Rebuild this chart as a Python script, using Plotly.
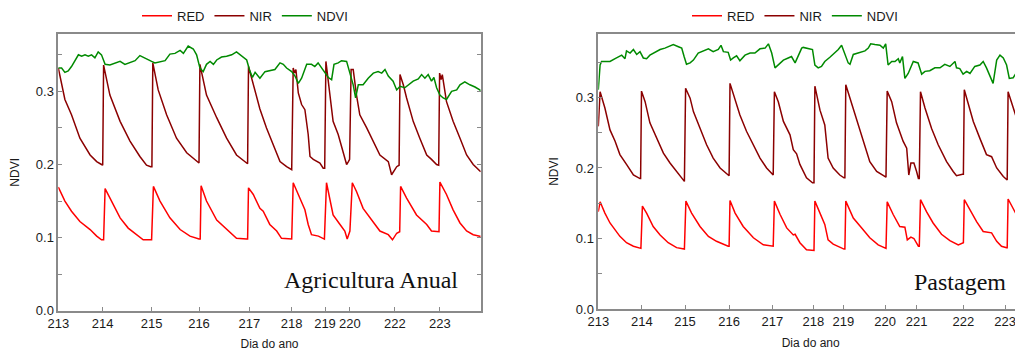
import plotly.graph_objects as go

# ---------------- data ----------------
# x = observation index (sample number), tick labels mark day of year
agr_day_pos = [0, 14.8, 31.1, 46.9, 63.7, 77.8, 88.9, 97.2, 112.2, 127.2]
agr_day_lbl = ["213", "214", "215", "216", "217", "218", "219", "220", "222", "223"]
pas_day_pos = [0, 14.5, 28.9, 43.6, 58, 71.7, 81.7, 95.6, 106.1, 121.7, 135.6]
pas_day_lbl = ["213", "214", "215", "216", "217", "218", "219", "220", "221", "222", "223"]

# Agricultura Anual - NIR
agr_nir_obs = [0, 2.2, 4.4, 7.2, 10.6, 12.8, 14.4, 14.8,
               15.1, 17.2, 20.6, 23.9, 27.2, 29.4, 30.8, 31.2,
               31.5, 33.3, 36.1, 39.4, 42.8, 46.1, 46.9,
               47.2, 49.4, 52.8, 56.1, 59.4, 62.8, 63.1,
               63.4, 65, 67.2, 69.4, 71.6, 73.9, 76.1, 77.8,
               78.3, 78.8, 79.2, 80, 81.1, 82.2, 83.3, 83.9, 85, 87.2, 88.3, 88.8,
               89.2, 90.5, 91.6, 93.3, 95, 96.1, 96.7, 97.1,
               97.6, 98.3, 99.4, 100.5, 102.8, 105, 107.2, 110, 111.1, 112.8, 113.6,
               113.9, 115, 116.1, 118.3, 120.5, 122.8, 124.4, 126.1, 126.8,
               127.1, 127.6, 128, 129.4, 131.6, 133.9, 136.1, 138.3, 140.5, 140.8]
agr_nir = [0.332, 0.289, 0.268, 0.236, 0.213, 0.204, 0.200, 0.199,
           0.336, 0.295, 0.259, 0.232, 0.211, 0.199, 0.197, 0.197,
           0.339, 0.302, 0.268, 0.236, 0.216, 0.204, 0.202,
           0.337, 0.295, 0.264, 0.236, 0.213, 0.202, 0.201,
           0.334, 0.309, 0.276, 0.250, 0.227, 0.204, 0.197, 0.193,
           0.332, 0.325, 0.330, 0.298, 0.282, 0.275, 0.241, 0.211, 0.207, 0.202, 0.195, 0.195,
           0.341, 0.295, 0.259, 0.241, 0.218, 0.200, 0.204, 0.207,
           0.330, 0.330, 0.295, 0.268, 0.250, 0.232, 0.213, 0.204, 0.186, 0.197, 0.199,
           0.323, 0.309, 0.291, 0.259, 0.236, 0.213, 0.207, 0.200, 0.199,
           0.325, 0.316, 0.323, 0.286, 0.259, 0.236, 0.213, 0.200, 0.191, 0.190]

# Agricultura Anual - RED
agr_red_obs = [0, 2.2, 4.4, 7.2, 10.6, 12.8, 14.4, 15.1,
               15.6, 17.8, 20.6, 23.3, 26.1, 28.3, 31.1,
               31.7, 33.9, 37.2, 40.6, 43.9, 46.9, 47.3,
               47.6, 49.4, 52.8, 56.1, 59.4, 62.8, 63.1,
               63.4, 65, 67.2, 68.3, 70.5, 72.8, 74.4, 77.8,
               78.3, 80.5, 82.2, 83.3, 84.4, 86.7, 88.7,
               89.4, 90.5, 91.6, 93.9, 95.5, 96.3, 97.2,
               98.0, 99.4, 101.6, 105, 107.2, 110, 111.4, 112.8, 113.8,
               114.1, 116.1, 119.4, 122.8, 124.4, 126.1, 126.9,
               127.2, 129.4, 131.6, 133.9, 136.1, 138.3, 140.5, 140.8]
agr_red = [0.169, 0.150, 0.136, 0.122, 0.111, 0.102, 0.097, 0.097,
           0.167, 0.150, 0.127, 0.113, 0.104, 0.097, 0.097,
           0.170, 0.150, 0.127, 0.111, 0.102, 0.098, 0.098,
           0.171, 0.150, 0.124, 0.111, 0.099, 0.098, 0.098,
           0.168, 0.159, 0.140, 0.136, 0.118, 0.109, 0.099, 0.098,
           0.175, 0.154, 0.138, 0.118, 0.104, 0.102, 0.098,
           0.175, 0.154, 0.131, 0.118, 0.109, 0.098, 0.109,
           0.175, 0.163, 0.140, 0.122, 0.109, 0.104, 0.097, 0.106, 0.108,
           0.170, 0.154, 0.131, 0.118, 0.109, 0.109, 0.108,
           0.176, 0.159, 0.138, 0.120, 0.109, 0.104, 0.102, 0.102]

# Agricultura Anual - NDVI
agr_ndvi_obs = [0, 1.1, 2.2, 3.3, 4.4, 5.6, 6.7, 7.8, 8.9, 10, 11.1, 12.2, 13.3, 14.4,
                15.6, 17.2, 18.9, 20.6, 22.2, 23.9, 25.6, 27.2, 28.9, 31.1, 32.2, 33.9,
                35.6, 37.2, 38.9, 40.6, 41.7, 43.3, 45, 46.1, 47.2, 48.3, 49.4, 50.6,
                51.7, 52.8, 54.4, 56.1, 57.8, 59.4, 61.1, 62.8, 63.7, 64.7, 65.6, 67.2,
                68.9, 70.5, 72.2, 73.9, 75, 76.1, 77.8, 78.9, 80, 81.1, 82.8, 84.4, 85.5,
                86.6, 87.8, 88.9, 90, 91.1, 91.9, 93.3, 94.4, 96.1, 97.2, 98.3, 99.1, 100,
                101.6, 103.3, 105, 106.6, 107.8, 108.9, 110, 111.6, 112.8, 113.9, 115.5,
                116.6, 118.3, 120, 121.1, 122.2, 123.3, 124.4, 125.2, 126.1, 127.2, 128.3,
                129.4, 131.1, 132.8, 133.9, 135.5, 137.2, 138.9, 140.5, 140.8]
agr_ndvi = [0.332, 0.332, 0.326, 0.328, 0.334, 0.343, 0.350, 0.348, 0.350, 0.348, 0.350, 0.346, 0.354, 0.350,
            0.337, 0.336, 0.339, 0.341, 0.337, 0.339, 0.342, 0.349, 0.345, 0.341, 0.339, 0.341,
            0.342, 0.351, 0.352, 0.356, 0.352, 0.362, 0.358, 0.350, 0.332, 0.327, 0.337, 0.341,
            0.337, 0.343, 0.347, 0.348, 0.350, 0.354, 0.348, 0.343, 0.330, 0.319, 0.326, 0.318,
            0.327, 0.328, 0.330, 0.339, 0.337, 0.332, 0.327, 0.321, 0.311, 0.318, 0.337, 0.337, 0.334,
            0.339, 0.332, 0.327, 0.319, 0.316, 0.337, 0.339, 0.342, 0.341, 0.323, 0.309, 0.291, 0.309,
            0.309, 0.318, 0.325, 0.327, 0.325, 0.330, 0.321, 0.314, 0.302, 0.307, 0.305,
            0.309, 0.314, 0.317, 0.323, 0.318, 0.323, 0.314, 0.319, 0.305, 0.295, 0.291,
            0.289, 0.300, 0.302, 0.309, 0.313, 0.309, 0.306, 0.302, 0.301]

# Pastagem - NIR
pas_nir_obs = [0, 0.6, 2.2, 3.9, 5.6, 7.2, 9.4, 11.7, 13.9, 14.1,
               14.4, 15.6, 17.2, 19.4, 21.7, 23.9, 26.1, 28.3, 28.7,
               29.1, 30.6, 31.7, 33.9, 36.1, 38.3, 40.6, 43.3, 43.6,
               43.9, 45, 47.2, 49.4, 51.7, 53.9, 56.1, 58, 58.3,
               58.7, 60, 61.7, 63.9, 65, 66.1, 67.2, 69.4, 71.4, 71.9,
               72.2, 73.9, 75.5, 76.6, 78.3, 80.5, 81.9, 82.2,
               82.5, 83.9, 86.1, 88.3, 90.5, 92.8, 95.5, 95.9,
               96.3, 97.8, 99.4, 101.6, 102.8, 103.5, 104.2, 105.2, 106.1, 106.7, 107.0,
               107.4, 108.9, 111.1, 113.3, 116.1, 118.3, 119.4, 121.4, 121.7,
               122, 123.3, 125, 127.2, 129.4, 131.1, 132.8, 135, 136.1, 136.3,
               136.6, 138.3, 140.5, 141.6, 143]
pas_nir = [0.259, 0.308, 0.285, 0.254, 0.238, 0.219, 0.205, 0.190, 0.185, 0.185,
           0.309, 0.294, 0.264, 0.242, 0.221, 0.207, 0.195, 0.183, 0.181,
           0.313, 0.299, 0.280, 0.256, 0.233, 0.214, 0.200, 0.190, 0.189,
           0.320, 0.304, 0.275, 0.252, 0.233, 0.214, 0.200, 0.190, 0.190,
           0.308, 0.294, 0.266, 0.247, 0.226, 0.220, 0.205, 0.186, 0.179, 0.179,
           0.316, 0.282, 0.261, 0.214, 0.200, 0.190, 0.186, 0.186,
           0.318, 0.299, 0.266, 0.238, 0.209, 0.195, 0.187, 0.187,
           0.309, 0.294, 0.264, 0.238, 0.228, 0.190, 0.207, 0.207, 0.195, 0.185, 0.185,
           0.308, 0.285, 0.256, 0.233, 0.209, 0.195, 0.189, 0.191, 0.191,
           0.311, 0.292, 0.266, 0.242, 0.219, 0.216, 0.200, 0.188, 0.183, 0.183,
           0.308, 0.285, 0.256, 0.242, 0.228]

# Pastagem - RED
pas_red_obs = [0, 0.6, 2.2, 3.9, 7.2, 9.4, 11.7, 14.2,
               14.7, 16.1, 18.3, 20.6, 23.3, 26.1, 28.7,
               29.2, 31.1, 33.9, 36.7, 39.4, 43.3, 43.6,
               43.9, 45.6, 48.3, 51.7, 55, 58, 58.3,
               58.7, 60.6, 62.8, 65, 65.6, 67.2, 69.4, 71.4, 71.9,
               72.2, 73.9, 75.5, 76.6, 78.3, 81.9, 82.2,
               82.5, 85, 87.8, 90.5, 93.3, 95.5, 95.9,
               96.3, 98.3, 100.5, 102.2, 103, 104.2, 105.2, 106.7, 107.0,
               107.4, 109.4, 111.6, 114.4, 117.2, 120, 121.7,
               122, 123.9, 126.1, 128.3, 131.1, 132.8, 134.4, 136.1, 136.3,
               136.6, 138.3, 140.5, 141.6, 143]
pas_red = [0.138, 0.152, 0.136, 0.122, 0.103, 0.094, 0.089, 0.086,
           0.146, 0.136, 0.117, 0.105, 0.094, 0.087, 0.085,
           0.153, 0.136, 0.117, 0.103, 0.096, 0.089, 0.089,
           0.154, 0.136, 0.117, 0.101, 0.091, 0.089, 0.089,
           0.153, 0.134, 0.115, 0.105, 0.106, 0.094, 0.084, 0.083, 0.083,
           0.153, 0.136, 0.120, 0.098, 0.092, 0.085, 0.085,
           0.153, 0.129, 0.115, 0.101, 0.091, 0.086, 0.086,
           0.152, 0.134, 0.117, 0.116, 0.098, 0.102, 0.100, 0.089, 0.089,
           0.155, 0.138, 0.122, 0.106, 0.097, 0.091, 0.094,
           0.155, 0.141, 0.124, 0.110, 0.108, 0.096, 0.089, 0.087, 0.087,
           0.156, 0.143, 0.124, 0.116, 0.110]

# Pastagem - NDVI
pas_ndvi_obs = [0, 0.6, 1.1, 2.2, 3.9, 5.6, 6.7, 7.8, 8.9, 9.4, 10.6, 11.7, 12.8, 13.9,
                15, 16.1, 17.2, 18.9, 20.6, 22.2, 23.3, 25, 26.7, 27.8, 28.6, 29.4, 30.6,
                31.7, 33.3, 35, 36.7, 38.3, 40, 40.9, 41.7, 43.3, 44.1, 45, 46.1, 47.2,
                48.9, 50.6, 52.2, 53.9, 55.6, 56.7, 57.8, 58.9, 60, 61.7, 63.3, 64.4,
                65.6, 66.7, 67.8, 68.3, 69.4, 71.4, 72.2, 73.3, 74.4, 75.5, 77.2, 78.9,
                80, 81.1, 82.2, 83.3, 83.9, 85, 86.6, 87.8, 88.9, 90, 90.8, 92.2, 93.9,
                95, 95.8, 96.6, 97.8, 98.9, 100, 100.5, 101.4, 102.2, 103.3, 105, 106.6,
                107.8, 108.9, 110.5, 112.2, 113.9, 115.5, 117.2, 118.9, 119.4, 120.5,
                121.6, 122.8, 123.9, 125.5, 127.2, 128.3, 129.4, 130.5, 131.6, 132.8,
                133.9, 135, 136.1, 137, 138.3, 140, 141.1, 143]
pas_ndvi = [0.311, 0.346, 0.351, 0.351, 0.351, 0.355, 0.358, 0.360, 0.355, 0.366, 0.363, 0.368, 0.361, 0.365,
            0.356, 0.355, 0.360, 0.364, 0.368, 0.370, 0.372, 0.375, 0.372, 0.370, 0.358, 0.347, 0.349,
            0.353, 0.363, 0.366, 0.369, 0.365, 0.368, 0.374, 0.365, 0.364, 0.353, 0.356, 0.359, 0.352,
            0.360, 0.363, 0.363, 0.369, 0.370, 0.376, 0.363, 0.342, 0.346, 0.353, 0.356, 0.358,
            0.349, 0.359, 0.370, 0.371, 0.370, 0.368, 0.346, 0.342, 0.344, 0.351, 0.357, 0.363,
            0.368, 0.374, 0.360, 0.349, 0.347, 0.361, 0.363, 0.364, 0.366, 0.370, 0.376, 0.375, 0.374,
            0.370, 0.376, 0.346, 0.351, 0.351, 0.355, 0.349, 0.358, 0.327, 0.334, 0.351, 0.349,
            0.333, 0.337, 0.338, 0.342, 0.342, 0.347, 0.344, 0.351, 0.342, 0.341,
            0.333, 0.337, 0.334, 0.344, 0.346, 0.351, 0.342, 0.332, 0.320, 0.353,
            0.360, 0.356, 0.346, 0.327, 0.328, 0.339, 0.344, 0.345]

series_names = ["RED", "NIR", "NDVI"]
series_colors = ["#ff0000", "#8b0000", "#008a00"]
panel_labels = ["Agricultura Anual", "Pastagem"]

# ---------------- figure ----------------
# the page body has an 8px margin, so the figure is drawn 8px right/down
OFF = 8
W, H = 1023 - OFF, 353 - OFF


def fx(px):
    return (px - OFF) / W


def fy(py):
    return 1 - (py - OFF) / H


fig = go.Figure()

panels = [
    (agr_red_obs, agr_red, agr_nir_obs, agr_nir, agr_ndvi_obs, agr_ndvi, "x", "y", "legend"),
    (pas_red_obs, pas_red, pas_nir_obs, pas_nir, pas_ndvi_obs, pas_ndvi, "x2", "y2", "legend2"),
]
for (rx, ry, nx, ny, vx, vy, xa, ya, lg) in panels:
    for name, col, xs, ys in zip(series_names, series_colors, [rx, nx, vx], [ry, ny, vy]):
        fig.add_trace(go.Scatter(x=xs, y=ys, mode="lines", name=name,
                                 line=dict(color=col, width=1.5),
                                 xaxis=xa, yaxis=ya, legend=lg))

axis_col = "#8a8a8a"
tick_font = dict(family="Liberation Sans, Arial, sans-serif", size=13, color="#1a1a1a")
title_font = dict(family="Liberation Sans, Arial, sans-serif", size=12, color="#1a1a1a")


def xaxis_cfg(domain, rng, pos, lbl, anchor):
    return dict(domain=domain, range=rng, tickmode="array", tickvals=pos, ticktext=lbl,
                ticks="inside", ticklen=4, tickcolor=axis_col, showline=True,
                linecolor=axis_col, linewidth=1.5, mirror=True, showgrid=False,
                zeroline=False, tickfont=tick_font, anchor=anchor, automargin=False,
                title=dict(text="Dia do ano", font=title_font, standoff=10))


def yaxis_cfg(domain, rng, anchor, mirror):
    return dict(domain=domain, range=rng, tickmode="array",
                tickvals=[0, 0.1, 0.2, 0.3], ticktext=["0.0", "0.1", "0.2", "0.3"],
                ticks="inside", ticklen=4, tickcolor=axis_col, showline=True,
                linecolor=axis_col, linewidth=1.5, mirror=mirror, showgrid=False,
                zeroline=False, tickfont=tick_font, anchor=anchor, automargin=False,
                minor=dict(tickvals=[0.05, 0.15, 0.25, 0.35], ticks="inside",
                           ticklen=4, tickcolor=axis_col, showgrid=False),
                title=dict(text="NDVI", font=title_font, standoff=15))


leg_font = dict(family="Liberation Sans, Arial, sans-serif", size=13, color="#1a1a1a")
fig.update_layout(
    width=W, height=H,
    margin=dict(l=0, r=0, t=0, b=0, autoexpand=False),
    paper_bgcolor="white", plot_bgcolor="white",
    xaxis=xaxis_cfg([fx(58.3), fx(480.7)], [0, 140.8], agr_day_pos, agr_day_lbl, "y"),
    yaxis=yaxis_cfg([fy(310.7), fy(34)], [0, 0.3785], "x", "ticks"),
    xaxis2=xaxis_cfg([fx(598.3), 1.0], [0, 141.57], pas_day_pos, pas_day_lbl, "y2"),
    yaxis2=yaxis_cfg([fy(309), fy(34)], [0, 0.39], "x2", False),
    legend=dict(orientation="h", x=fx(245), y=fy(15.7), xanchor="center", yanchor="middle",
                font=leg_font, bgcolor="rgba(0,0,0,0)", itemwidth=30, tracegroupgap=0),
    legend2=dict(orientation="h", x=fx(795), y=fy(15.7), xanchor="center", yanchor="middle",
                 font=leg_font, bgcolor="rgba(0,0,0,0)", itemwidth=30, tracegroupgap=0),
    showlegend=True,
)

fig.add_annotation(text=panel_labels[0], xref="x domain", yref="y domain",
                   x=(460 - 58.3) / 422.4, y=(310.7 - 280) / 276.7,
                   xanchor="right", yanchor="middle", showarrow=False,
                   font=dict(family="Liberation Serif, Times New Roman, serif", size=24, color="#111111"))
fig.add_annotation(text=panel_labels[1], xref="x2 domain", yref="y2 domain",
                   x=(1008 - 598.3) / 424.7, y=(309 - 282) / 275,
                   xanchor="right", yanchor="middle", showarrow=False,
                   font=dict(family="Liberation Serif, Times New Roman, serif", size=24, color="#111111"))

fig.write_html("out.html")
